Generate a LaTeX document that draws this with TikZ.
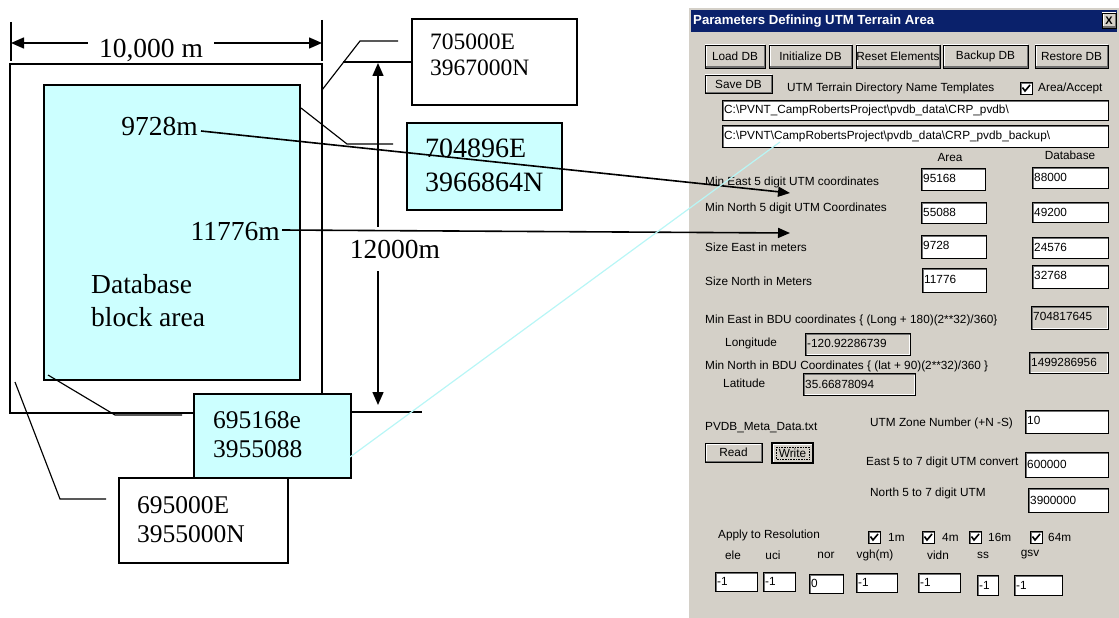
\documentclass[tikz,border=0pt]{standalone}
\usepackage{fontspec}
\setmainfont{Liberation Serif}
\newfontfamily\uifont{Liberation Sans}
\usetikzlibrary{arrows.meta}
\definecolor{cellcyan}{HTML}{CCFFFF}
\definecolor{leadcyan}{HTML}{B8F6F6}
\definecolor{dlggray}{HTML}{D4D0C8}
\definecolor{dlgdark}{HTML}{707070}
\definecolor{titlenavy}{HTML}{0A216B}
% small check mark box of the dialog
\newcommand{\uicheck}[2]{\draw[field] (#1,#2) rectangle ++(12,12);
  \draw[line width=1.6pt] (#1+2.5,#2+5.5) -- (#1+5,#2+9) -- (#1+10,#2+3);}
\begin{document}
\begin{tikzpicture}[x=1pt, y=-1pt,
  every node/.style={inner sep=0pt},
  bigtxt/.style={font=\fontsize{27.5}{33}\selectfont},
  leader/.style={line width=1.15pt},
  boxline/.style={line width=1.2pt},
  dimarrow/.style={line width=1.5pt, -{Triangle[length=13pt,width=11pt]}},
  leadarrow/.style={line width=1.6pt, -{Triangle[length=12pt,width=10pt]}},
  uitxt/.style={font=\uifont\fontsize{11.8}{13}\selectfont, anchor=west},
  titletxt/.style={font=\uifont\bfseries\fontsize{13.2}{14}\selectfont, text=white, anchor=west},
  field/.style={fill=white, path picture={
    \draw[line width=2pt, white] (path picture bounding box.south west) -| (path picture bounding box.north east);
    \draw[line width=3pt, dlgdark] (path picture bounding box.south west) |- (path picture bounding box.north east);}},
  rofield/.style={field, fill=dlggray},
  button/.style={fill=dlggray, path picture={
    \draw[line width=3pt, white] (path picture bounding box.south west) |- (path picture bounding box.north east);
    \draw[line width=3pt, dlgdark] (path picture bounding box.south west) -| (path picture bounding box.north east);}}]
\useasboundingbox (0,0) rectangle (1119,618);

% Terrain area and database block
\draw[leader] (10,64) rectangle (322,413);
\draw[leader] (11,22) -- (11,61);
\draw[leader] (322,20) -- (322,61);
\draw[line width=1.4pt, fill=cellcyan] (44,85) rectangle (300,380);
\node[bigtxt, anchor=north west, align=left] (dbArea) at (91,274) {Database\\block area};
\node[bigtxt, anchor=base east] (sizeEast) at (198,135) {9728m};
\node[bigtxt, anchor=base east] (sizeNorth) at (280,240) {11776m};

% 10,000 m across
\coordinate (wLeft) at (11,43);
\coordinate (wRight) at (322,43);
\node[bigtxt, anchor=base, inner xsep=11pt] (widthLbl) at (151,58) {10,000 m};
\draw[dimarrow] (widthLbl.west |- wLeft) -- (wLeft);
\draw[dimarrow] (widthLbl.east |- wRight) -- (wRight);

% 12000m up and down
\coordinate (hTop) at (378,63);
\coordinate (hBot) at (378,405);
\node[bigtxt, anchor=base, inner ysep=13pt] (heightLbl) at (395,258) {12000m};
\draw[dimarrow] (heightLbl.north -| hTop) -- (hTop);
\draw[dimarrow] (heightLbl.south -| hBot) -- (hBot);
\draw[leader] (343,62) -- (412,62);
\draw[leader] (352,412) -- (422,412);

% corner coordinates
\draw[boxline, fill=white] (412,19) rectangle (577,105);
\node[anchor=north west, align=left, font=\fontsize{23.5}{26}\selectfont] (cornerNE) at (430,34) {705000E\\3967000N};
\draw[boxline, fill=cellcyan] (407,123) rectangle (562,210);
\node[anchor=north west, align=left, font=\fontsize{28}{34}\selectfont] (blockNE) at (425,139) {704896E\\3966864N};
\draw[boxline, fill=white] (119,478) rectangle (288,563);
\node[anchor=north west, align=left, font=\fontsize{25.5}{29}\selectfont] (cornerSW) at (137,496) {695000E\\3955000N};
\draw[boxline, fill=cellcyan] (194,394) rectangle (351,478);
\node[anchor=north west, align=left, font=\fontsize{25.5}{29}\selectfont] (blockSW) at (213,411) {695168e\\3955088};

% callout leaders
\coordinate (outerNE) at (322,90);
\coordinate (cornerNEtip) at (398,41);
\coordinate (innerNE) at (301,108);
\coordinate (blockNEtip) at (393,144);
\coordinate (innerSW) at (48,375);
\coordinate (blockSWtip) at (182,415);
\coordinate (outerSW) at (15,382);
\coordinate (cornerSWtip) at (106,499);
\draw[leader] (outerNE) -- (360,41) -- (cornerNEtip);
\draw[leader] (innerNE) -- (347,144) -- (blockNEtip);
\draw[leader] (innerSW) -- (115,415) -- (blockSWtip);
\draw[leader] (outerSW) -- (60,499) -- (cornerSWtip);

% dialog window
\fill[dlggray] (688,7) rectangle (1119,618);
\draw[white, line width=1pt] (688.5,618) -- (688.5,7.5) -- (1119,7.5);
\fill[titlenavy] (691,10) rectangle (1117,32);
\node[titletxt] (dlgTitle) at (693,21) {Parameters Defining UTM Terrain Area};
\draw[button] (1102,13) rectangle (1116,28);
\node[font=\uifont\bfseries\fontsize{11}{11}\selectfont] (closeX) at (1109,20.5) {X};

\draw[button] (705,45) rectangle (765,68);
\node[uitxt, anchor=center] (btnLoad) at (735,56.5) {Load DB};
\draw[button] (769,45) rectangle (852,68);
\node[uitxt, anchor=center] (btnInit) at (810.5,56.5) {Initialize DB};
\draw[button] (856,45) rectangle (940,68);
\node[uitxt, anchor=center] (btnReset) at (898,56.5) {Reset Elements};
\draw[button] (943,45) rectangle (1028,68);
\node[uitxt, anchor=center] (btnBackup) at (985.5,56.5) {Backup DB};
\draw[button] (1035,45) rectangle (1108,68);
\node[uitxt, anchor=center] (btnRestore) at (1071.5,56.5) {Restore DB};
\draw[button] (705,75) rectangle (772,93);
\node[uitxt, anchor=center] (btnSave) at (738.5,84) {Save DB};
\node[uitxt] (lblTemplates) at (787,88) {UTM Terrain Directory Name Templates};
\uicheck{1020}{82}
\node[uitxt] (lblAccept) at (1038,88) {Area/Accept};

\draw[field] (722,100) rectangle (1108,120);
\node[uitxt] (dirMain) at (724,110) {C:\textbackslash PVNT\_CampRobertsProject\textbackslash pvdb\_data\textbackslash CRP\_pvdb\textbackslash};
\draw[field] (722,125) rectangle (1108,147);
\node[uitxt] (dirBackup) at (724,136) {C:\textbackslash PVNT\textbackslash CampRobertsProject\textbackslash pvdb\_data\textbackslash CRP\_pvdb\_backup\textbackslash};

\node[uitxt, anchor=center] (hdArea) at (950,157) {Area};
\node[uitxt, anchor=center] (hdDb) at (1070,155) {Database};

\node[uitxt] (lblMinE) at (705,182) {Min East 5 digit UTM coordinates};
\draw[field] (921,168) rectangle (985,190);
\node[uitxt] (valMinE) at (923,178) {95168};
\draw[field] (1032,167) rectangle (1108,188);
\node[uitxt] (dbMinE) at (1034,177) {88000};
\node[uitxt] (lblMinN) at (705,208) {Min North 5 digit UTM Coordinates};
\draw[field] (921,202) rectangle (986,223);
\node[uitxt] (valMinN) at (923,212) {55088};
\draw[field] (1032,202) rectangle (1108,222);
\node[uitxt] (dbMinN) at (1034,212) {49200};
\node[uitxt] (lblSizeE) at (705,247) {Size East in meters};
\draw[field] (921,235) rectangle (986,258);
\node[uitxt] (valSizeE) at (923,245) {9728};
\draw[field] (1032,237) rectangle (1108,258);
\node[uitxt] (dbSizeE) at (1034,247) {24576};
\node[uitxt] (lblSizeN) at (705,281) {Size North in Meters};
\draw[field] (922,268) rectangle (986,292);
\node[uitxt] (valSizeN) at (924,279) {11776};
\draw[field] (1032,265) rectangle (1108,288);
\node[uitxt] (dbSizeN) at (1034,275) {32768};

\node[uitxt] (lblBduE) at (705,320) {Min East in BDU coordinates \{ (Long + 180)(2**32)/360\}};
\draw[rofield] (1031,306) rectangle (1108,329);
\node[uitxt] (valBduE) at (1033,316) {704817645};
\node[uitxt] (lblLong) at (725,343) {Longitude};
\draw[rofield] (805,333) rectangle (910,355);
\node[uitxt] (valLong) at (807,343) {-120.92286739};
\node[uitxt] (lblBduN) at (705,366) {Min North in BDU Coordinates \{ (lat + 90)(2**32)/360 \}};
\draw[rofield] (1029,352) rectangle (1108,373);
\node[uitxt] (valBduN) at (1031,362) {1499286956};
\node[uitxt] (lblLat) at (723,383) {Latitude};
\draw[rofield] (803,373) rectangle (915,395);
\node[uitxt] (valLat) at (805,384) {35.66878094};

\node[uitxt] (lblMeta) at (705,428) {PVDB\_Meta\_Data.txt};
\draw[button] (705,443) rectangle (762,462);
\node[uitxt, anchor=center] (btnRead) at (733.5,452.5) {Read};
\draw[button] (772,443) rectangle (813,463);
\draw[line width=1.2pt] (772,443) rectangle (813,463);
\draw[densely dotted, line width=0.6pt] (776,447) rectangle (809,459);
\node[uitxt, anchor=center] (btnWrite) at (792.5,453) {Write};
\node[uitxt] (lblZone) at (870,423) {UTM Zone Number (+N -S)};
\draw[field] (1025,410) rectangle (1108,433);
\node[uitxt] (valZone) at (1027,420) {10};
\node[uitxt] (lblEastConv) at (866,462) {East 5 to 7 digit UTM convert};
\draw[field] (1025,452) rectangle (1108,477);
\node[uitxt] (valEastConv) at (1027,464) {600000};
\node[uitxt] (lblNorthConv) at (870,493) {North 5 to 7 digit UTM};
\draw[field] (1028,488) rectangle (1108,512);
\node[uitxt] (valNorthConv) at (1030,500) {3900000};

\node[uitxt] (lblApply) at (718,535) {Apply to Resolution};
\uicheck{868}{531}
\node[uitxt] (res1) at (888,537) {1m};
\uicheck{922}{531}
\node[uitxt] (res4) at (942,537) {4m};
\uicheck{969}{531}
\node[uitxt] (res16) at (988,537) {16m};
\uicheck{1030}{531}
\node[uitxt] (res64) at (1048,537) {64m};

\node[uitxt, anchor=center] (hdEle) at (733,555) {ele};
\node[uitxt, anchor=center] (hdUci) at (773,555) {uci};
\node[uitxt, anchor=center] (hdNor) at (826,555) {nor};
\node[uitxt, anchor=center] (hdVgh) at (875,555) {vgh(m)};
\node[uitxt, anchor=center] (hdVidn) at (938,555) {vidn};
\node[uitxt, anchor=center] (hdSs) at (983,555) {ss};
\node[uitxt, anchor=center] (hdGsv) at (1030,555) {gsv};
\draw[field] (715,572) rectangle (757,591);
\node[uitxt] (valEle) at (717,581.5) {-1};
\draw[field] (763,572) rectangle (795,591);
\node[uitxt] (valUci) at (765,581.5) {-1};
\draw[field] (809,574) rectangle (843,593);
\node[uitxt] (valNor) at (811,583.5) {0};
\draw[field] (856,573) rectangle (897,592);
\node[uitxt] (valVgh) at (858,582.5) {-1};
\draw[field] (918,573) rectangle (960,592);
\node[uitxt] (valVidn) at (920,582.5) {-1};
\draw[field] (977,575) rectangle (998,595);
\node[uitxt] (valSs) at (979,585) {-1};
\draw[field] (1014,575) rectangle (1062,595);
\node[uitxt] (valGsv) at (1016,585) {-1};

% pointers into the dialog
\coordinate (minEastTip) at (790,193);
\coordinate (minNorthTip) at (790,233);
\coordinate (blockSWedge) at (350,457);
\coordinate (dirBackupTip) at (780,142);
\draw[leadarrow] ([shift={(3,-4)}]sizeEast.base east) -- (minEastTip);
\draw[leadarrow] ([shift={(2,-10)}]sizeNorth.base east) -- (minNorthTip);
\draw[leadcyan, line width=1.2pt] (blockSWedge) -- (dirBackupTip);
\end{tikzpicture}
\end{document}
